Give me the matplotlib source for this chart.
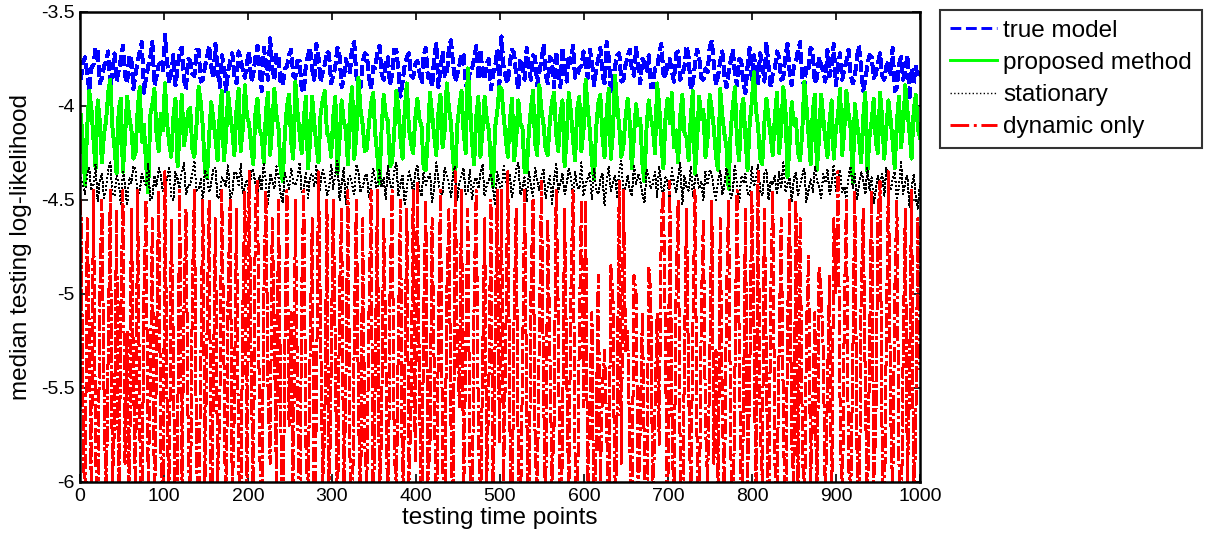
import numpy as np
import matplotlib
matplotlib.use("Agg")
import matplotlib.pyplot as plt
from matplotlib.ticker import FuncFormatter

plt.rcParams['font.family'] = ['Liberation Sans', 'DejaVu Sans']
plt.rcParams['axes.unicode_minus'] = False

# ---- data (one value every 2.5 time points) ----
true_model = [
    -3.86,-3.77,-3.74,-3.83,-3.92,-3.80,-3.78,-3.69,-3.70,-3.88,-3.85,-3.79,-3.76,-3.71,-3.90,-3.82,-3.72,-3.87,-3.81,-3.75,
    -3.68,-3.84,-3.88,-3.73,-3.75,-3.91,-3.83,-3.77,-3.71,-3.66,-3.93,-3.85,-3.79,-3.74,-3.66,-3.89,-3.84,-3.78,-3.77,-3.81,
    -3.62,-3.76,-3.88,-3.82,-3.73,-3.89,-3.80,-3.71,-3.69,-3.86,-3.91,-3.75,-3.76,-3.83,-3.84,-3.70,-3.70,-3.87,-3.86,-3.79,
    -3.74,-3.68,-3.79,-3.85,-3.67,-3.80,-3.90,-3.73,-3.78,-3.92,-3.82,-3.76,-3.72,-3.84,-3.88,-3.71,-3.75,-3.81,-3.85,-3.77,
    -3.71,-3.87,-3.83,-3.74,-3.68,-3.81,-3.92,-3.69,-3.77,-3.86,-3.64,-3.79,-3.86,-3.72,-3.74,-3.88,-3.89,-3.80,-3.79,-3.73,
    -3.70,-3.84,-3.85,-3.76,-3.76,-3.91,-3.93,-3.78,-3.73,-3.69,-3.81,-3.86,-3.67,-3.74,-3.87,-3.82,-3.78,-3.71,-3.72,-3.88,
    -3.84,-3.79,-3.69,-3.73,-3.90,-3.86,-3.75,-3.80,-3.82,-3.68,-3.66,-3.84,-3.88,-3.90,-3.77,-3.72,-3.73,-3.85,-3.91,-3.79,
    -3.80,-3.71,-3.68,-3.83,-3.86,-3.76,-3.74,-3.89,-3.83,-3.70,-3.70,-3.81,-3.95,-3.87,-3.78,-3.74,-3.72,-3.84,-3.85,-3.78,
    -3.76,-3.82,-3.88,-3.73,-3.69,-3.85,-3.82,-3.90,-3.74,-3.67,-3.90,-3.80,-3.71,-3.84,-3.84,-3.69,-3.65,-3.78,-3.87,-3.83,
    -3.78,-3.72,-3.73,-3.88,-3.92,-3.81,-3.80,-3.75,-3.68,-3.86,-3.70,-3.83,-3.86,-3.77,-3.75,-3.91,-3.83,-3.79,-3.70,-3.89,
    -3.63,-3.79,-3.85,-3.88,-3.77,-3.70,-3.72,-3.84,-3.91,-3.75,-3.79,-3.86,-3.69,-3.80,-3.86,-3.73,-3.74,-3.89,-3.82,-3.76,
    -3.67,-3.83,-3.88,-3.74,-3.76,-3.90,-3.71,-3.82,-3.90,-3.69,-3.81,-3.87,-3.73,-3.77,-3.68,-3.85,-3.84,-3.80,-3.79,-3.71,
    -3.78,-3.85,-3.70,-3.76,-3.89,-3.81,-3.75,-3.69,-3.83,-3.88,-3.66,-3.74,-3.92,-3.86,-3.79,-3.73,-3.72,-3.87,-3.86,-3.78,
    -3.74,-3.70,-3.81,-3.84,-3.69,-3.79,-3.88,-3.75,-3.77,-3.82,-3.73,-3.90,-3.90,-3.80,-3.80,-3.72,-3.67,-3.83,-3.85,-3.77,
    -3.75,-3.81,-3.87,-3.72,-3.71,-3.86,-3.83,-3.79,-3.68,-3.74,-3.91,-3.88,-3.78,-3.70,-3.74,-3.85,-3.86,-3.80,-3.82,-3.69,
    -3.65,-3.78,-3.89,-3.84,-3.76,-3.71,-3.84,-3.90,-3.82,-3.76,-3.70,-3.83,-3.89,-3.75,-3.76,-3.88,-3.93,-3.79,-3.69,-3.86,
    -3.73,-3.80,-3.88,-3.72,-3.77,-3.87,-3.66,-3.79,-3.90,-3.83,-3.80,-3.71,-3.74,-3.86,-3.85,-3.73,-3.67,-3.82,-3.89,-3.79,
    -3.77,-3.70,-3.66,-3.85,-3.90,-3.78,-3.80,-3.69,-3.71,-3.88,-3.85,-3.74,-3.78,-3.82,-3.87,-3.70,-3.84,-3.79,-3.67,-3.89,
    -3.79,-3.72,-3.86,-3.81,-3.76,-3.70,-3.83,-3.88,-3.85,-3.74,-3.68,-3.80,-3.92,-3.86,-3.78,-3.73,-3.74,-3.85,-3.83,-3.77,
    -3.72,-3.84,-3.86,-3.79,-3.76,-3.83,-3.69,-3.92,-3.90,-3.78,-3.74,-3.86,-3.81,-3.73,-3.97,-3.80,-3.88,-3.79,-3.85,-3.82,
]

proposed_method = [
    -4.05,-4.20,-4.42,-4.12,-3.92,-4.01,-4.18,-4.33,-3.97,-4.08,-4.30,-4.15,-4.08,-3.93,-3.86,-4.11,-4.22,-4.36,-4.02,-3.96,
    -4.35,-4.17,-3.95,-4.06,-4.12,-4.28,-4.25,-4.02,-3.90,-4.19,-4.10,-4.31,-4.46,-4.05,-3.99,-3.91,-4.15,-4.24,-4.04,-4.13,
    -3.88,-4.09,-4.20,-4.27,-4.06,-3.96,-4.32,-4.14,-3.94,-4.21,-4.14,-4.03,-4.01,-4.23,-4.27,-4.10,-3.90,-3.98,-4.11,-4.35,
    -4.38,-4.16,-3.98,-4.07,-4.17,-4.29,-4.05,-3.92,-4.29,-4.18,-3.93,-4.04,-4.13,-4.26,-4.02,-3.91,-4.24,-4.12,-3.89,-4.06,
    -4.09,-4.22,-4.31,-4.04,-3.96,-4.13,-4.16,-4.30,-4.03,-3.93,-4.26,-4.11,-3.91,-4.05,-4.12,-4.34,-4.40,-4.15,-4.00,-3.94,
    -4.19,-4.28,-3.87,-4.03,-4.14,-4.25,-4.07,-3.95,-4.33,-4.19,-3.95,-4.09,-4.21,-4.30,-4.04,-3.97,-3.92,-4.14,-4.17,-4.27,
    -4.06,-3.95,-4.36,-4.18,-3.97,-4.08,-4.13,-4.31,-4.01,-3.90,-4.28,-4.16,-3.85,-4.02,-4.10,-4.24,-4.23,-4.09,-3.99,-3.93,
    -4.15,-4.27,-4.41,-4.12,-3.94,-4.05,-4.08,-4.32,-4.30,-4.14,-3.92,-4.01,-4.18,-4.28,-4.02,-3.88,-4.12,-4.20,-4.25,-4.07,
    -3.96,-4.07,-4.11,-4.33,-4.34,-4.16,-3.93,-4.04,-4.16,-4.26,-4.04,-3.94,-4.22,-4.13,-3.88,-4.01,-4.09,-4.29,-4.37,-4.10,
    -4.00,-3.92,-4.14,-4.25,-3.80,-3.98,-4.19,-4.31,-4.06,-3.95,-4.27,-4.13,-3.95,-4.07,-4.13,-4.31,-4.43,-4.11,-4.03,-3.90,
    -3.91,-4.05,-4.17,-4.27,-4.08,-3.96,-4.29,-4.18,-3.97,-4.09,-4.12,-4.35,-4.35,-4.14,-4.01,-3.92,-4.20,-4.26,-3.89,-4.02,
    -4.10,-4.23,-4.26,-4.08,-3.98,-3.93,-4.15,-4.24,-4.05,-3.97,-4.32,-4.17,-3.93,-4.03,-4.18,-4.29,-4.02,-3.95,-4.24,-4.13,
    -3.86,-4.01,-4.13,-4.30,-4.39,-4.12,-3.99,-3.94,-4.16,-4.27,-4.04,-3.91,-4.28,-4.14,-3.84,-3.99,-4.11,-4.27,-4.21,-4.06,
    -3.96,-4.09,-4.33,-4.16,-3.99,-4.10,-4.07,-4.31,-4.40,-4.11,-3.97,-4.06,-4.12,-4.25,-3.88,-4.00,-4.20,-4.33,-4.06,-3.96,
    -4.09,-3.93,-4.22,-4.13,-4.30,-4.05,-3.94,-4.14,-4.17,-4.29,-4.06,-3.92,-4.36,-4.19,-3.95,-4.07,-4.02,-4.27,-4.17,-3.94,
    -4.02,-4.12,-4.27,-4.34,-3.91,-4.05,-4.15,-4.22,-4.44,-4.13,-4.00,-3.90,-4.19,-4.29,-4.03,-3.96,-4.17,-4.34,-4.10,-3.98,
    -3.82,-4.02,-4.11,-4.28,-4.31,-4.09,-3.96,-4.07,-4.16,-4.26,-4.05,-3.93,-4.25,-4.13,-3.90,-4.01,-4.38,-4.20,-3.98,-4.10,
    -4.07,-4.25,-4.29,-4.14,-3.87,-4.00,-4.15,-4.31,-4.03,-3.94,-4.34,-4.17,-3.94,-4.06,-4.18,-4.27,-4.08,-3.97,-4.28,-4.12,
    -4.05,-3.91,-4.26,-4.13,-3.92,-4.04,-4.12,-4.41,-3.99,-4.09,-4.17,-4.30,-4.06,-3.93,-4.35,-4.16,-4.08,-3.96,-4.19,-4.25,
    -3.93,-4.06,-4.28,-4.12,-3.97,-4.07,-4.19,-4.33,-4.08,-3.95,-4.22,-4.11,-3.89,-4.02,-4.14,-4.28,-4.02,-3.94,-4.12,-4.17,
]

stationary = [
    -4.38,-4.43,-4.47,-4.36,-4.33,-4.45,-4.42,-4.31,-4.51,-4.40,-4.36,-4.49,-4.44,-4.34,-4.30,-4.46,-4.48,-4.37,-4.40,-4.52,
    -4.35,-4.41,-4.53,-4.38,-4.41,-4.32,-4.34,-4.47,-4.46,-4.36,-4.39,-4.43,-4.31,-4.50,-4.49,-4.37,-4.43,-4.33,-4.37,-4.45,
    -4.45,-4.39,-4.32,-4.48,-4.50,-4.35,-4.39,-4.44,-4.35,-4.30,-4.47,-4.42,-4.42,-4.36,-4.29,-4.45,-4.44,-4.39,-4.52,-4.34,
    -4.37,-4.46,-4.41,-4.33,-4.33,-4.49,-4.48,-4.38,-4.40,-4.43,-4.31,-4.51,-4.46,-4.35,-4.36,-4.42,-4.31,-4.47,-4.43,-4.39,
    -4.50,-4.34,-4.34,-4.42,-4.48,-4.37,-4.45,-4.30,-4.41,-4.53,-4.36,-4.40,-4.44,-4.32,-4.38,-4.47,-4.51,-4.35,-4.40,-4.44,
    -4.33,-4.41,-4.42,-4.38,-4.30,-4.46,-4.45,-4.35,-4.49,-4.37,-4.36,-4.43,-4.32,-4.51,-4.40,-4.34,-4.39,-4.48,-4.44,-4.31,
    -4.44,-4.36,-4.29,-4.50,-4.41,-4.33,-4.52,-4.39,-4.37,-4.42,-4.47,-4.31,-4.35,-4.46,-4.43,-4.38,-4.36,-4.49,-4.42,-4.33,
    -4.40,-4.47,-4.34,-4.43,-4.38,-4.50,-4.32,-4.41,-4.45,-4.35,-4.30,-4.48,-4.41,-4.37,-4.53,-4.44,-4.34,-4.39,-4.46,-4.36,
    -4.31,-4.45,-4.48,-4.35,-4.42,-4.38,-4.36,-4.51,-4.43,-4.30,-4.40,-4.46,-4.47,-4.33,-4.37,-4.42,-4.49,-4.36,-4.32,-4.50,
    -4.41,-4.37,-4.33,-4.47,-4.45,-4.34,-4.50,-4.40,-4.38,-4.44,-4.35,-4.31,-4.48,-4.42,-4.39,-4.36,-4.44,-4.52,-4.35,-4.41,
    -4.46,-4.32,-4.39,-4.44,-4.36,-4.49,-4.41,-4.34,-4.30,-4.47,-4.43,-4.38,-4.51,-4.35,-4.42,-4.48,-4.33,-4.40,-4.45,-4.37,
    -4.34,-4.49,-4.43,-4.37,-4.52,-4.39,-4.31,-4.46,-4.41,-4.36,-4.47,-4.42,-4.33,-4.38,-4.50,-4.35,-4.43,-4.44,-4.30,-4.48,
    -4.42,-4.38,-4.35,-4.50,-4.33,-4.44,-4.47,-4.39,-4.36,-4.53,-4.40,-4.32,-4.45,-4.41,-4.37,-4.49,-4.34,-4.29,-4.46,-4.43,
    -4.37,-4.45,-4.48,-4.31,-4.42,-4.36,-4.40,-4.47,-4.51,-4.34,-4.38,-4.44,-4.41,-4.35,-4.49,-4.32,-4.43,-4.47,-4.38,-4.40,
    -4.49,-4.33,-4.41,-4.46,-4.38,-4.30,-4.52,-4.37,-4.43,-4.45,-4.32,-4.48,-4.39,-4.36,-4.44,-4.40,-4.50,-4.35,-4.42,-4.34,
    -4.36,-4.44,-4.50,-4.39,-4.34,-4.47,-4.42,-4.33,-4.38,-4.49,-4.45,-4.31,-4.43,-4.52,-4.37,-4.41,-4.36,-4.46,-4.48,-4.32,
    -4.43,-4.39,-4.31,-4.45,-4.48,-4.36,-4.34,-4.50,-4.40,-4.42,-4.37,-4.47,-4.35,-4.44,-4.30,-4.46,-4.41,-4.38,-4.51,-4.39,
    -4.35,-4.48,-4.42,-4.37,-4.33,-4.51,-4.45,-4.39,-4.46,-4.32,-4.40,-4.43,-4.49,-4.36,-4.41,-4.34,-4.47,-4.42,-4.31,-4.45,
    -4.40,-4.34,-4.46,-4.43,-4.49,-4.38,-4.32,-4.44,-4.36,-4.50,-4.42,-4.35,-4.39,-4.47,-4.33,-4.45,-4.38,-4.52,-4.44,-4.37,
    -4.42,-4.36,-4.48,-4.33,-4.41,-4.45,-4.39,-4.35,-4.50,-4.43,-4.30,-4.47,-4.40,-4.37,-4.54,-4.44,-4.36,-4.49,-4.55,-4.41,
]

dynamic_only = [
    -4.5,-5.6,-6.3,-4.6,-5.2,-6.1,-4.45,-5.8,-6.4,-5.0,-4.5,-5.5,-6.2,-5.3,-4.45,-6.0,-5.7,-4.55,-6.3,-5.1,
    -4.45,-5.9,-5.2,-6.4,-4.55,-5.4,-6.1,-4.45,-5.7,-6.3,-5.0,-4.5,-6.0,-5.5,-4.6,-6.2,-5.3,-4.45,-5.8,-6.4,
    -4.35,-5.6,-6.2,-4.6,-5.3,-6.5,-5.8,-4.45,-6.1,-5.1,-4.55,-5.7,-6.3,-5.0,-4.45,-5.9,-6.2,-5.4,-4.5,-6.0,
    -5.2,-4.5,-6.3,-5.5,-4.6,-6.0,-5.7,-4.45,-5.3,-6.4,-5.0,-4.5,-6.1,-5.6,-4.55,-5.9,-6.2,-5.1,-4.45,-6.3,
    -4.35,-5.4,-6.1,-4.5,-4.4,-5.8,-6.3,-5.0,-4.45,-5.5,-5.9,-4.6,-5.2,-6.0,-4.5,-5.6,-6.4,-5.3,-4.45,-5.7,
    -5.1,-6.2,-4.5,-5.5,-6.4,-5.0,-4.45,-5.8,-6.1,-5.3,-4.6,-6.3,-5.6,-4.35,-5.2,-6.0,-5.7,-4.5,-6.2,-5.4,
    -4.5,-5.3,-6.3,-5.0,-4.55,-6.1,-5.5,-4.45,-5.9,-6.4,-5.2,-4.5,-5.6,-6.2,-4.6,-5.8,-6.0,-5.1,-4.45,-6.3,
    -5.4,-4.45,-6.2,-5.7,-4.6,-5.3,-6.4,-5.0,-4.45,-5.8,-6.1,-5.2,-4.5,-6.3,-5.5,-4.55,-6.0,-5.6,-4.45,-5.9,
    -4.4,-5.5,-6.3,-5.1,-4.5,-6.0,-5.8,-4.6,-5.4,-6.4,-5.2,-4.45,-5.9,-6.2,-5.0,-4.55,-5.7,-6.3,-4.35,-5.3,
    -5.6,-4.45,-6.1,-5.3,-4.55,-5.9,-6.4,-5.0,-4.45,-5.7,-6.2,-5.4,-4.6,-6.0,-5.5,-4.5,-6.3,-5.2,-4.45,-5.8,
    -4.45,-6.0,-5.3,-4.35,-5.7,-6.3,-5.1,-4.55,-5.9,-6.2,-5.4,-4.45,-5.6,-6.4,-5.0,-4.5,-5.8,-6.1,-5.2,-4.4,
    -5.5,-6.2,-4.6,-5.3,-6.0,-5.7,-4.45,-5.1,-6.4,-5.8,-4.55,-5.4,-6.1,-5.0,-4.45,-5.9,-6.3,-5.2,-4.5,-5.6,
    -4.5,-6.1,-5.6,-5.1,-6.4,-5.8,-4.9,-6.0,-5.5,-5.3,-5.7,-6.2,-4.85,-5.0,-6.3,-5.6,-4.4,-5.9,-4.45,-5.3,
    -5.2,-5.8,-6.3,-4.9,-5.0,-6.1,-5.7,-5.1,-5.9,-6.4,-4.85,-5.0,-6.2,-5.6,-5.1,-5.8,-4.6,-4.45,-5.3,-6.3,
    -4.4,-5.6,-6.2,-5.0,-4.5,-5.9,-6.4,-5.3,-4.55,-5.5,-6.1,-5.2,-4.45,-5.8,-6.3,-5.1,-4.6,-5.7,-6.0,-5.4,
    -4.5,-5.9,-5.3,-6.3,-4.6,-5.6,-6.1,-5.0,-4.5,-5.8,-6.4,-5.4,-4.45,-5.2,-6.2,-5.7,-4.55,-6.0,-5.5,-4.45,
    -5.1,-6.2,-4.35,-5.7,-6.0,-4.55,-5.4,-6.3,-5.0,-4.45,-5.9,-6.1,-5.3,-4.6,-5.6,-6.4,-5.2,-4.5,-5.8,-6.0,
    -4.5,-6.2,-4.6,-5.7,-6.3,-5.2,-4.8,-6.0,-5.6,-5.1,-6.4,-4.85,-5.0,-5.3,-6.1,-5.5,-4.9,-6.2,-4.6,-5.0,
    -4.35,-5.6,-6.3,-5.1,-4.5,-5.9,-6.1,-5.4,-4.45,-5.8,-6.4,-5.0,-4.55,-5.5,-6.2,-5.3,-4.45,-6.0,-5.7,-4.6,
    -4.4,-5.8,-6.3,-5.2,-4.35,-5.6,-6.1,-5.0,-4.5,-5.9,-6.4,-5.3,-4.55,-6.0,-5.5,-4.45,-6.2,-5.7,-4.6,-5.4,
]

labels = ['true model', 'proposed method', 'stationary', 'dynamic only']
x_ticks = [0, 100, 200, 300, 400, 500, 600, 700, 800, 900, 1000]
y_ticks = [-6, -5.5, -5, -4.5, -4, -3.5]

# ---- figure ----
fig = plt.figure(figsize=(12.1, 5.45), dpi=100)
ax = fig.add_axes([80/1210, 1 - 482/545, 840/1210, 470/545])

n = len(true_model)
t = np.linspace(1, 1000, n)

common = dict(antialiased=False)
ax.plot(t, true_model, color='#0000ff', linestyle='--', lw=2.1, label=labels[0], **common)
ax.plot(t, proposed_method, color='#00ff00', linestyle='-', lw=2.1, label=labels[1], **common)
ax.plot(t, stationary, color='black', linestyle=':', lw=1.0, label=labels[2], **common)
ax.plot(t, dynamic_only, color='#ff0000', linestyle='-.', lw=1.6, label=labels[3], **common)

ax.set_xlim(0, 1000)
ax.set_ylim(-6, -3.5)
ax.set_xticks(x_ticks)
ax.set_yticks(y_ticks)
ax.yaxis.set_major_formatter(FuncFormatter(lambda v, p: ('%g' % v)))
ax.tick_params(direction='in', top=True, right=True, length=6, width=1.2,
               labelsize=14, pad=4)
for s in ax.spines.values():
    s.set_linewidth(1.8)

ax.set_xlabel('testing time points', fontsize=17.5, labelpad=2)
ax.set_ylabel('median testing log-likelihood', fontsize=17.5, labelpad=6)

leg = ax.legend(loc='upper left', bbox_to_anchor=(940/1210, 1 - 10/545),
                bbox_transform=fig.transFigure, fontsize=17.5, frameon=True,
                fancybox=False, edgecolor='black', borderaxespad=0,
                handlelength=1.95, handletextpad=0.25, labelspacing=0.42,
                borderpad=0.4)
leg.get_lines()[3].set_linewidth(2.1)
leg.get_frame().set_linewidth(1.5)

fig.savefig('out.png', dpi=100)
